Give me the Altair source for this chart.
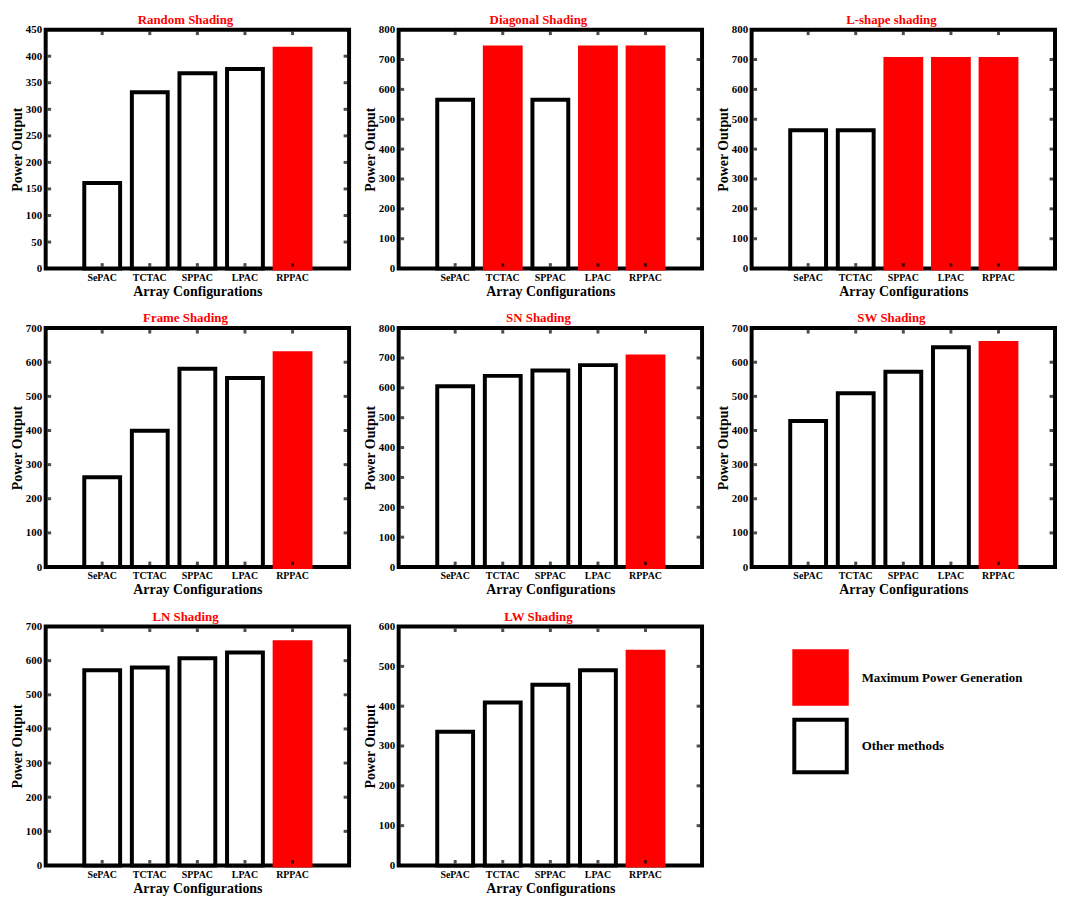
import altair as alt
import pandas as pd

CONFIGS = ["SePAC", "TCTAC", "SPPAC", "LPAC", "RPPAC"]
TITLES = ["Random Shading", "Diagonal Shading", "L-shape shading",
          "Frame Shading", "SN Shading", "SW Shading",
          "LN Shading", "LW Shading"]

RANDOM = [161, 332, 368, 376, 414]
DIAGONAL = [565, 740, 565, 740, 740]
LSHAPE = [463, 463, 702, 702, 702]
FRAME = [263, 399, 581, 554, 626]
SN = [605, 640, 658, 676, 705]
SW = [428, 509, 572, 644, 656]
LN = [572, 580, 607, 624, 654]
LW = [336, 409, 454, 490, 537]

SERIES = [RANDOM, DIAGONAL, LSHAPE, FRAME, SN, SW, LN, LW]
Y_MAX = [450, 800, 800, 700, 800, 700, 700, 600]
Y_STEP = [50, 100, 100, 100, 100, 100, 100, 100]
KINDS = ["Maximum Power Generation", "Other methods"]

W, H = 306, 241
FONT = "Liberation Serif"


def panel(i, with_legend):
    vals = SERIES[i]
    top = max(vals)
    df = pd.DataFrame({
        "config": CONFIGS,
        "power": vals,
        "kind": [KINDS[0] if v == top else KINDS[1] for v in vals],
    })
    ticks = list(range(0, Y_MAX[i] + 1, Y_STEP[i]))
    inner = pd.DataFrame({"power": ticks[1:-1]})
    xs = pd.DataFrame({"config": CONFIGS})
    xscale = alt.Scale(domain=CONFIGS, paddingInner=0.247, paddingOuter=0.811)
    yscale = alt.Scale(domain=[0, Y_MAX[i]], nice=False, zero=True)
    xaxis = alt.Axis(title="Array Configurations", labelAngle=0)
    yaxis = alt.Axis(values=ticks, title="Power Output")

    if with_legend:
        legend = alt.Legend(
            title=None, orient="none", legendX=753, legendY=625,
            symbolType="square", symbolSize=2800, symbolStrokeWidth=4,
            labelFont=FONT, labelFontSize=13, labelFontWeight="bold",
            labelColor="black", labelOffset=13, rowPadding=0, labelLimit=400,
        )
    else:
        legend = None

    xenc = alt.X("config:N", scale=xscale, sort=CONFIGS, axis=xaxis)
    yenc = alt.Y("power:Q", scale=yscale, axis=yaxis)

    bars = alt.Chart(df).mark_bar(strokeWidth=4).encode(
        x=xenc,
        y=yenc,
        fill=alt.Fill("kind:N", scale=alt.Scale(domain=KINDS, range=["#ff0000", "#ffffff"]),
                      legend=legend),
        stroke=alt.Stroke("kind:N", scale=alt.Scale(domain=KINDS, range=["#ff0000", "#000000"]),
                          legend=legend),
    )

    left = alt.Chart(inner).mark_tick(orient="horizontal", size=3.5, thickness=3, color="black").encode(
        x=alt.value(3.75), y=yenc)
    right = alt.Chart(inner).mark_tick(orient="horizontal", size=3.5, thickness=3, color="black").encode(
        x=alt.value(W - 3.75), y=yenc)
    topt = alt.Chart(xs).mark_tick(orient="vertical", size=3.5, thickness=3, color="black").encode(
        x=xenc, y=alt.value(3.75))
    bott = alt.Chart(xs).mark_tick(orient="vertical", size=3.5, thickness=3, color="black").encode(
        x=xenc, y=alt.value(H - 3.75))

    return alt.layer(bars, left, right, topt, bott).properties(
        width=W, height=H,
        title=alt.TitleParams(TITLES[i], color="#ff0000", fontSize=13, font=FONT,
                              fontWeight="bold", offset=-3, anchor="middle",
                              frame="group", dx=-12),
    )


charts = [panel(i, i == 0) for i in range(8)]

chart = alt.concat(*charts, columns=3, spacing={"row": 10, "column": 10}).properties(
    padding=0
).configure_view(
    stroke="black", strokeWidth=4
).configure_axis(
    labelFont=FONT, titleFont=FONT, labelFontWeight="bold", titleFontWeight="bold",
    labelColor="black", titleColor="black", ticks=False, domain=False, grid=False,
).configure_axisY(
    labelFontSize=11, titleFontSize=14, labelPadding=4, titlePadding=1,
).configure_axisX(
    labelFontSize=10, titleFontSize=14, labelPadding=4, titlePadding=2,
)

chart.save("out.html", embed_options={"renderer": "svg", "actions": False})
